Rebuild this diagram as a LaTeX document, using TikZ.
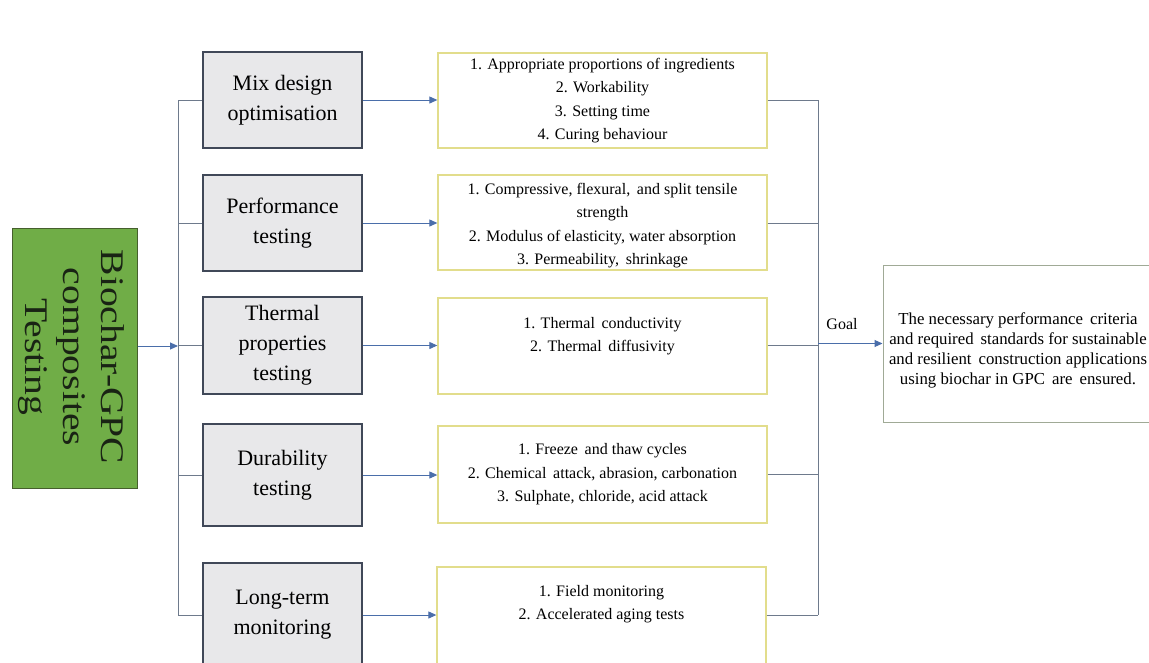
\documentclass[tikz,border=0pt]{standalone}
\usepackage{fontspec}
\setmainfont{Liberation Serif}
\newfontfamily\wideserif[FakeStretch=1.2]{Liberation Serif}
\usetikzlibrary{arrows.meta}
\definecolor{greenfill}{RGB}{112,173,71}
\definecolor{greenedge}{RGB}{70,95,45}
\definecolor{greentext}{RGB}{25,35,20}
\definecolor{grayfill}{RGB}{232,232,234}
\definecolor{grayedge}{RGB}{64,72,88}
\definecolor{yellowedge}{RGB}{226,221,140}
\definecolor{finaledge}{RGB}{160,170,150}
\definecolor{busline}{RGB}{110,122,140}
\definecolor{arrowblue}{RGB}{74,110,170}
\tikzset{
  rootbox/.style={draw=greenedge, fill=greenfill, line width=1pt, inner sep=0pt},
  roottext/.style={rotate=-90, align=center, text=greentext, font={\wideserif\fontsize{33}{38}\selectfont}},
  graybox/.style={draw=grayedge, fill=grayfill, line width=1.2pt, minimum width=159, align=center, font={\fontsize{22}{30}\selectfont}, inner sep=0pt},
  itembox/.style={draw=yellowedge, fill=white, line width=1.3pt, minimum width=329, inner sep=0pt},
  itemtext/.style={align=center, font={\fontsize{16}{23.5}\selectfont}},
  finalbox/.style={draw=finaledge, fill=white, line width=1pt, minimum width=270, minimum height=157, inner sep=0pt},
  finaltext/.style={align=center, font={\fontsize{16.8}{20}\selectfont}},
  bus/.style={draw=busline, line width=1pt},
  arr/.style={draw=arrowblue, line width=1pt, -{Triangle[length=8pt,width=7pt]}},
}
\begin{document}
\begin{tikzpicture}[x=1pt,y=-1pt]
\clip (0,0) rectangle (1149,662);
\fill[white] (0,0) rectangle (1149,662);

% root
\node[rootbox, minimum width=125, minimum height=260] (root) at (74.5,358) {};
\node[roottext] (roottxt) at (71,357) {Biochar-GPC\\composites\\Testing};

% bus coordinates
\coordinate (lb) at (178,0);
\coordinate (rb) at (818,0);

% gray boxes
\node[graybox, minimum height=96] (g1) at (282.5,100) {Mix design\\optimisation};
\node[graybox, minimum height=96] (g2) at (282.5,223) {Performance\\testing};
\node[graybox, minimum height=97] (g3) at (282.5,345.5) {Thermal\\properties\\testing};
\node[graybox, minimum height=102] (g4) at (282.5,475) {Durability\\testing};
\node[graybox, minimum height=104] (g5) at (282.5,615) {Long-term\\monitoring};

% item boxes
\node[itembox, minimum height=95] (r1) at (602.5,100.5) {};
\node[itemtext] (t1) at (r1.center) {1. Appropriate proportions of ingredients\\2. Workability\\3. Setting time\\4. Curing behaviour};
\node[itembox, minimum height=95] (r2) at (602.5,222.5) {};
\node[itemtext] (t2) at ([yshift=-3]r2.center) {1. Compressive, flexural,\, and split tensile\\strength\\2. Modulus of elasticity, water absorption\\3. Permeability,\, shrinkage};
\node[itembox, minimum height=96] (r3) at (602.5,346) {};
\node[itemtext] (t3) at ([yshift=10]r3.center) {1. Thermal\, conductivity\\2. Thermal\, diffusivity};
\node[itembox, minimum height=97] (r4) at (602.5,474.5) {};
\node[itemtext] (t4) at (r4.center) {1. Freeze\, and thaw cycles\\2. Chemical\, attack, abrasion, carbonation\\3. Sulphate, chloride, acid attack};
\node[itembox, minimum height=100] (r5) at (601.5,617) {};
\node[itemtext] (t5) at ([yshift=13]r5.center) {1. Field monitoring\\2. Accelerated aging tests};

% final box
\node[finalbox] (final) at (1018,343.5) {};
\node[finaltext] (ftxt) at ([yshift=-7]final.center) {The necessary performance\, criteria\\and required\, standards for sustainable\\and resilient\, construction applications\\using biochar in GPC\, are\, ensured.};

% left bus
\draw[bus] (g1.west -| lb) -- (g5.west -| lb);
\foreach \g in {g1,g2,g3,g4,g5}{
  \draw[bus] (\g.west -| lb) -- (\g.west);
}
\draw[arr] ([yshift=12pt]root.east) -- ([yshift=12pt]root.east -| lb);

% middle arrows
\draw[arr] (g1.east) -- (g1.east -| r1.west);
\draw[arr] (g2.east) -- (g2.east -| r2.west);
\draw[arr] (g3.east) -- (g3.east -| r3.west);
\draw[arr] (g4.east) -- (g4.east -| r4.west);
\draw[arr] (g5.east) -- (g5.east -| r5.west);

% right bus
\draw[bus] (r1.east |- g1.east) -- (g1.east -| rb);
\draw[bus] (r2.east |- g2.east) -- (g2.east -| rb);
\draw[bus] (r3.east |- g3.east) -- (g3.east -| rb);
\draw[bus] (r4.east) -- (r4.east -| rb);
\draw[bus] (r5.east |- g5.east) -- (g5.east -| rb);
\draw[bus] (g1.east -| rb) -- (g5.east -| rb);

% goal
\draw[arr] (final.west -| rb) -- (final.west);
\node[font={\fontsize{16}{20}\selectfont}] (goal) at (842,324) {Goal};
\end{tikzpicture}
\end{document}
